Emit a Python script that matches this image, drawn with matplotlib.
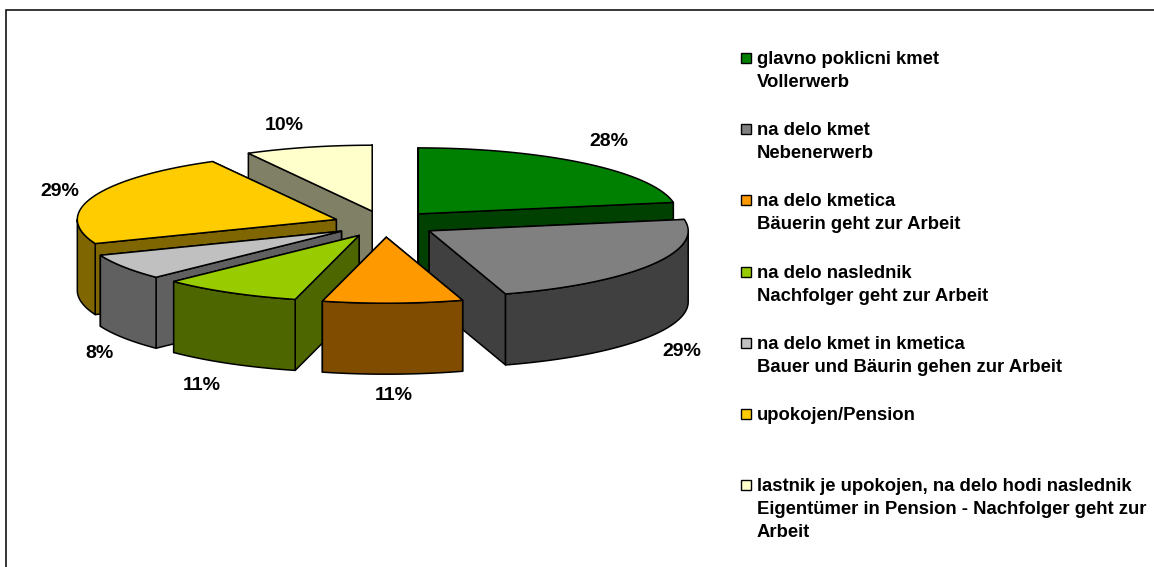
import numpy as np
import matplotlib
matplotlib.use("Agg")
import matplotlib.pyplot as plt
from matplotlib.patches import Polygon, Rectangle

plt.rcParams['font.family'] = ['Liberation Sans', 'DejaVu Sans']

# data
values = [28, 29, 11, 11, 8, 29, 10]
top_colors = ['#008000', '#808080', '#FF9900', '#99CC00', '#C0C0C0', '#FFCC00', '#FFFFCC']
wall_colors = ['#004000', '#404040', '#804C00', '#4D6600', '#606060', '#806600', '#808066']
legend_lines = [
    ['glavno poklicni kmet', 'Vollerwerb'],
    ['na delo kmet', 'Nebenerwerb'],
    ['na delo kmetica', 'Bäuerin geht zur Arbeit'],
    ['na delo naslednik', 'Nachfolger geht zur Arbeit'],
    ['na delo kmet in kmetica', 'Bauer und Bäurin gehen zur Arbeit'],
    ['upokojen/Pension'],
    ['lastnik je upokojen, na delo hodi naslednik',
     'Eigentümer in Pension - Nachfolger geht zur', 'Arbeit'],
]

# layout (pixel space)
CX, CY, RX, RY, DEPTH, EXPLODE = 385, 224, 259, 66, 71, 0.2
label_pos = [(609, 142), (682, 351), (394, 396), (202, 386), (100, 353), (60, 191), (284, 125)]
draw_order = [6, 0, 5, 4, 3, 1, 2]
LW = 1.1

fig = plt.figure(figsize=(11.54, 5.67), dpi=100)
ax = fig.add_axes([0, 0, 1, 1])
ax.set_xlim(0, 1154)
ax.set_ylim(567, 0)
ax.axis('off')

ax.plot([6, 6, 1154], [567, 10, 10], color='black', lw=1.1, solid_joinstyle='miter')

edges = np.cumsum([0] + values) / sum(values) * 2 * np.pi


def rim(t, ax0, ay0):
    return ax0 + RX * np.sin(t), ay0 - RY * np.cos(t)


def add(xs, ys, color, z):
    ax.add_patch(Polygon(np.column_stack([xs, ys]), closed=True, facecolor=color,
                         edgecolor='black', lw=LW, joinstyle='round', zorder=z))


for z, i in enumerate(draw_order):
    t0, t1 = edges[i], edges[i + 1]
    mid = (t0 + t1) / 2
    ax0 = CX + EXPLODE * RX * np.sin(mid)
    ay0 = CY - EXPLODE * RY * np.cos(mid)
    base = 10 + z * 5
    # radial walls: the one reaching further back is painted first
    for n, t in enumerate(sorted((t0, t1), key=lambda a: -np.cos(a))):
        x, y = rim(t, ax0, ay0)
        add([ax0, x, x, ax0], [ay0, y, y + DEPTH, ay0 + DEPTH], wall_colors[i], base + n * 0.5)
    # outer wall on the front half
    a, b = max(t0, np.pi / 2), min(t1, 1.5 * np.pi)
    if b > a:
        ts = np.linspace(a, b, 80)
        x, y = rim(ts, ax0, ay0)
        add(np.r_[x, x[::-1]], np.r_[y, y[::-1] + DEPTH], wall_colors[i], base + 1)
    # top face
    ts = np.linspace(t0, t1, 120)
    x, y = rim(ts, ax0, ay0)
    add(np.r_[ax0, x], np.r_[ay0, y], top_colors[i], base + 2)

for v, (x, y) in zip(values, label_pos):
    ax.text(x, y, f'{v}%', ha='center', va='center', fontsize=14,
            fontweight='bold', color='black', zorder=100)

# legend
ROW0, ROW_STEP, LINE_STEP = 64, 71.2, 23
for i, lines in enumerate(legend_lines):
    base = ROW0 + i * ROW_STEP
    ax.add_patch(Rectangle((741, base - 11), 10, 10, facecolor=top_colors[i],
                           edgecolor='black', lw=1.0, zorder=100))
    for j, s in enumerate(lines):
        ax.text(757, base + j * LINE_STEP, s, ha='left', va='baseline', fontsize=13.3,
                fontweight='bold', color='black', zorder=100)

fig.savefig('out.png', dpi=100)
